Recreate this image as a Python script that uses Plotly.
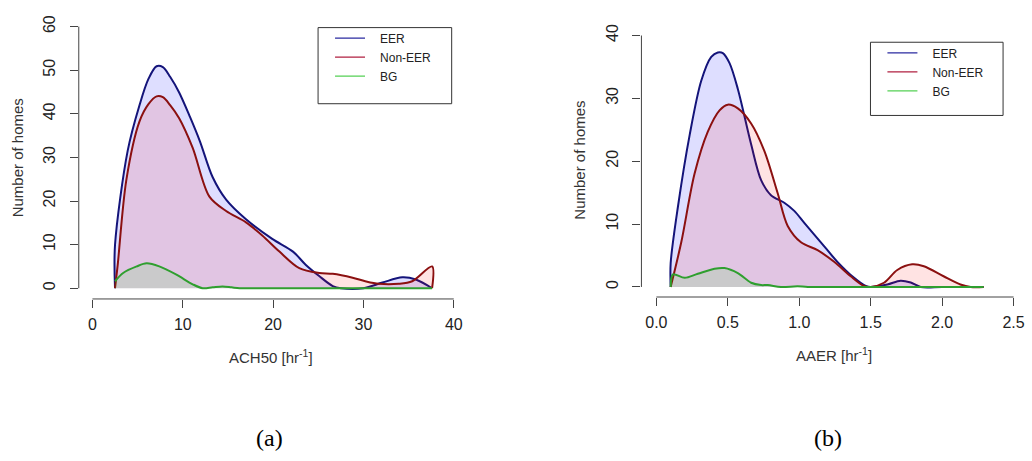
import plotly.graph_objects as go

W, H = 1032, 461

# ---------------- data ----------------
ach_eer_x = [2.5, 2.5, 3.9, 5.2, 6.2, 7.1, 7.8, 8.6, 9.6, 10.8, 11.9, 13.3, 14.8, 17.0, 19.9,
             22.2, 23.6, 25.1, 26.6, 27.5, 30.0, 32.1, 34.3, 35.8, 37.6]
ach_eer_y = [0, 9.9, 31.5, 41.9, 48.0, 50.9, 50.7, 48.5, 44.9, 39.3, 33.7, 25.5, 20.3, 15.8, 11.3,
             8.4, 5.4, 2.8, 0.5, 0, 0, 1.3, 2.5, 2.0, 0]

ach_neer_x = [2.5, 2.8, 3.75, 5.2, 6.2, 7.1, 7.8, 8.6, 9.6, 11.1, 12.95, 14.8, 17.0, 18.8, 20.7,
              22.9, 25.1, 26.6, 28.8, 30.2, 31.7, 33.9, 35.4, 37.6, 37.6]
ach_neer_y = [0, 5.4, 24.8, 38.2, 42.2, 44.0, 43.8, 42.0, 39.0, 32.2, 21.0, 17.7, 15.1, 12.1, 8.4,
              4.6, 3.5, 3.3, 2.4, 1.6, 1.0, 1.0, 1.6, 5.0, 0]

ach_bg_x = [2.5, 3.4, 4.9, 6.0, 7.4, 9.3, 11.1, 12.2, 13.3, 14.4, 15.4, 16.3, 20.0, 25.0, 30.0, 37.6]
ach_bg_y = [1.6, 3.5, 5.0, 5.7, 5.0, 3.1, 0.9, 0, 0.2, 0.4, 0.2, 0, 0, 0, 0, 0]

aaer_eer_x = [0.1, 0.1, 0.151, 0.233, 0.314, 0.384, 0.43, 0.465, 0.512, 0.57, 0.663, 0.733, 0.802,
              0.895, 0.965, 1.035, 1.151, 1.267, 1.384, 1.465, 1.5, 1.616, 1.709, 1.78, 1.85, 2.0, 2.29]
aaer_eer_y = [0, 3.8, 12.8, 24.2, 32.8, 36.6, 37.3, 37.2, 35.6, 31.5, 22.7, 17.0, 14.6,
              13.4, 12.1, 10.2, 7.1, 4.0, 1.45, 0.15, 0, 0.4, 1.0, 0.7, 0, 0, 0]

aaer_neer_x = [0.1, 0.174, 0.267, 0.36, 0.442, 0.5, 0.57, 0.663, 0.756, 0.849, 0.919, 1.012, 1.128,
               1.244, 1.36, 1.453, 1.5, 1.593, 1.686, 1.79, 1.872, 2.01, 2.128, 2.2, 2.29]
aaer_neer_y = [0, 7.1, 18.0, 24.7, 28.1, 29.0, 28.4, 26.0, 21.6, 14.9, 9.7, 7.1, 5.85,
               4.0, 1.7, 0.15, 0, 0.67, 2.7, 3.6, 3.3, 1.7, 0.4, 0, 0]

aaer_bg_x = [0.1, 0.116, 0.198, 0.29, 0.407, 0.477, 0.57, 0.663, 0.733, 0.78, 0.872, 0.988, 1.06, 1.5, 2.29]
aaer_bg_y = [0, 2.0, 1.45, 2.1, 2.9, 3.0, 2.2, 0.67, 0.3, 0.3, 0, 0.1, 0, 0, 0]

series_names = ["EER", "Non-EER", "BG"]
ach_ticks = [0, 10, 20, 30, 40]
ach_yticks = [0, 10, 20, 30, 40, 50, 60]
aaer_ticks = [0.0, 0.5, 1.0, 1.5, 2.0, 2.5]
aaer_yticks = [0, 10, 20, 30, 40]

# ---------------- styles ----------------
line_cols = ["#14147a", "#8b1010", "#2f9f2f"]
legend_cols = ["#2a2aa0", "#b02040", "#55d055"]
fill_cols = ["rgba(0,0,255,0.13)", "rgba(255,0,0,0.11)", "rgba(0,255,0,0.10)"]
FONT = "Liberation Sans, Arial, sans-serif"
AX = "#444444"
NB = "\u00a0\u00a0\u00a0"

# axis geometry (pixels)
L = dict(x0=79, x1=470, y0=295, y1=16)       # left panel box
R = dict(x0=643.3, x1=1025, y0=293, y1=20)   # right panel box
Lxr = [(79 - 92.7) / 9.06, (470 - 92.7) / 9.06]
Lyr = [(284 - 295) / 4.467, (284 - 16) / 4.467]
Rxr = [(643.3 - 658.3) / 143.3, (1025 - 658.3) / 143.3]
Ryr = [(282.7 - 293) / 6.44, (282.7 - 20) / 6.44]

fig = go.Figure()

panels = [
    ("x", "y", [(ach_eer_x, ach_eer_y), (ach_neer_x, ach_neer_y), (ach_bg_x, ach_bg_y)]),
    ("x2", "y2", [(aaer_eer_x, aaer_eer_y), (aaer_neer_x, aaer_neer_y), (aaer_bg_x, aaer_bg_y)]),
]
for xa, ya, series in panels:
    for i, (xs, ys) in enumerate(series):
        fig.add_trace(go.Scatter(
            x=xs, y=ys, xaxis=xa, yaxis=ya, mode="lines",
            line=dict(color=line_cols[i], width=2, shape="spline", smoothing=0.9),
            fill="tozeroy", fillcolor=fill_cols[i], showlegend=False, hoverinfo="skip"))

# legend entries (one legend per panel)
for lg in ["legend", "legend2"]:
    for i, name in enumerate(series_names):
        fig.add_trace(go.Scatter(
            x=[None], y=[None], mode="lines", name=NB + name, legend=lg,
            line=dict(color=legend_cols[i], width=1.3), xaxis="x", yaxis="y"))


def px_x(p):
    return p / W


def px_y(p):
    return 1 - p / H


def axis_common():
    return dict(showgrid=False, zeroline=False, showline=False, ticks="outside",
                ticklen=8, tickwidth=1, tickcolor=AX,
                tickfont=dict(family=FONT, size=16, color="#222222"))


fig.update_layout(
    width=W, height=H, margin=dict(l=0, r=0, t=0, b=0),
    paper_bgcolor="white", plot_bgcolor="white",
    xaxis=dict(domain=[px_x(L["x0"]), px_x(L["x1"])], range=Lxr, anchor="y",
               tickvals=ach_ticks, ticklabelstandoff=3, **axis_common()),
    yaxis=dict(domain=[px_y(L["y0"]), px_y(L["y1"])], range=Lyr, anchor="x",
               tickvals=ach_yticks, tickangle=-90, ticklabelstandoff=8, **axis_common()),
    xaxis2=dict(domain=[px_x(R["x0"]), px_x(R["x1"])], range=Rxr, anchor="y2",
                tickvals=aaer_ticks, tickformat=".1f", ticklabelstandoff=3, **axis_common()),
    yaxis2=dict(domain=[px_y(R["y0"]), px_y(R["y1"])], range=Ryr, anchor="x2",
                tickvals=aaer_yticks, tickangle=-90, ticklabelstandoff=8, **axis_common()),
    legend=dict(x=px_x(331), y=px_y(13), xanchor="left", yanchor="top",
                bgcolor="rgba(0,0,0,0)", borderwidth=0, itemwidth=30,
                font=dict(family=FONT, size=12, color="#222222")),
    legend2=dict(x=px_x(885), y=px_y(28), xanchor="left", yanchor="top",
                 bgcolor="rgba(0,0,0,0)", borderwidth=0, itemwidth=30,
                 font=dict(family=FONT, size=12, color="#222222")),
)


def to_paper(v, rng, p0, p1):
    # data value -> paper coordinate along an axis whose domain spans p0..p1
    frac = (v - rng[0]) / (rng[1] - rng[0])
    return p0 + frac * (p1 - p0)


shapes = []
ly0 = to_paper(ach_yticks[0], Lyr, px_y(L["y0"]), px_y(L["y1"]))
ly1 = to_paper(ach_yticks[-1], Lyr, px_y(L["y0"]), px_y(L["y1"]))
shapes.append(dict(type="line", xref="paper", yref="paper", x0=px_x(L["x0"]), x1=px_x(L["x0"]),
                   y0=ly0, y1=ly1, line=dict(color=AX, width=1)))
lx0 = to_paper(ach_ticks[0], Lxr, px_x(L["x0"]), px_x(L["x1"]))
lx1 = to_paper(ach_ticks[-1], Lxr, px_x(L["x0"]), px_x(L["x1"]))
shapes.append(dict(type="line", xref="paper", yref="paper", x0=lx0, x1=lx1,
                   y0=px_y(L["y0"]), y1=px_y(L["y0"]), line=dict(color=AX, width=1)))
ry0 = to_paper(aaer_yticks[0], Ryr, px_y(R["y0"]), px_y(R["y1"]))
ry1 = to_paper(aaer_yticks[-1], Ryr, px_y(R["y0"]), px_y(R["y1"]))
shapes.append(dict(type="line", xref="paper", yref="paper", x0=px_x(R["x0"]), x1=px_x(R["x0"]),
                   y0=ry0, y1=ry1, line=dict(color=AX, width=1)))
rx0 = to_paper(aaer_ticks[0], Rxr, px_x(R["x0"]), px_x(R["x1"]))
rx1 = to_paper(aaer_ticks[-1], Rxr, px_x(R["x0"]), px_x(R["x1"]))
shapes.append(dict(type="line", xref="paper", yref="paper", x0=rx0, x1=rx1,
                   y0=px_y(R["y0"]), y1=px_y(R["y0"]), line=dict(color=AX, width=1)))
# legend boxes
shapes.append(dict(type="rect", xref="paper", yref="paper", x0=px_x(319), x1=px_x(453),
                   y0=px_y(95), y1=px_y(17), line=dict(color="#333333", width=1)))
shapes.append(dict(type="rect", xref="paper", yref="paper", x0=px_x(873), x1=px_x(1006),
                   y0=px_y(107), y1=px_y(32), line=dict(color="#333333", width=1)))
fig.update_layout(shapes=shapes)


def note(text, xp, yp, font, angle=0):
    return dict(text=text, x=px_x(xp), y=px_y(yp), xref="paper", yref="paper",
                xanchor="center", yanchor="middle", showarrow=False, textangle=angle, font=font)


tfont = dict(family=FONT, size=15, color="#333333")
sfont = dict(family="Liberation Serif, Times New Roman, serif", size=24, color="#000000")
ann = [
    note("Number of homes", 17, 150, tfont, -90),
    note("Number of homes", 581, 153, tfont, -90),
    note("ACH50 [hr<sup>-1</sup>]", 272, 354, tfont),
    note("AAER [hr<sup>-1</sup>]", 836, 352, tfont),
    note("(a)", 270, 437, sfont),
    note("(b)", 830, 437, sfont),
]
fig.update_layout(annotations=ann)

fig.write_html("out.html")
